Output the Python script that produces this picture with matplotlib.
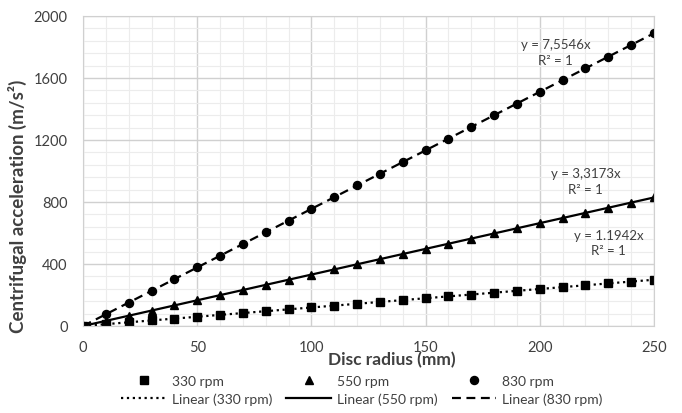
import numpy as np
import matplotlib.pyplot as plt
from matplotlib.ticker import MultipleLocator

plt.rcParams['font.family'] = ['Lato', 'DejaVu Sans']

radius = [0, 10, 20, 30, 40, 50, 60, 70, 80, 90, 100, 110, 120, 130, 140, 150,
          160, 170, 180, 190, 200, 210, 220, 230, 240, 250]
acc_330 = [0, 11.9, 23.9, 35.8, 47.8, 59.7, 71.7, 83.6, 95.5, 107.5, 119.4, 131.4, 143.3,
           155.2, 167.2, 179.1, 191.1, 203.0, 215.0, 226.9, 238.8, 250.8, 262.7, 274.7, 286.6, 298.6]
acc_550 = [0, 33.2, 66.3, 99.5, 132.7, 165.9, 199.0, 232.2, 265.4, 298.6, 331.7, 364.9, 398.1,
           431.2, 464.4, 497.6, 530.8, 563.9, 597.1, 630.3, 663.5, 696.6, 729.8, 763.0, 796.2, 829.3]
acc_830 = [0, 75.5, 151.1, 226.6, 302.2, 377.7, 453.3, 528.8, 604.4, 679.9, 755.5, 831.0, 906.6,
           982.1, 1057.6, 1133.2, 1208.7, 1284.3, 1359.8, 1435.4, 1510.9, 1586.5, 1662.0, 1737.6,
           1813.1, 1888.7]

txt = '#404040'

fig = plt.figure(figsize=(6.82, 4.14), dpi=100)
ax = fig.add_axes([83/682, 1 - 327/414, 571/682, 310/414])

h330, = ax.plot(radius, acc_330, 's', color='black', markersize=5.5, linestyle='none', label='330 rpm')
l330, = ax.plot(radius, acc_330, ':', color='black', linewidth=1.6, label='Linear (330 rpm)')
h550, = ax.plot(radius, acc_550, '^', color='black', markersize=6, linestyle='none', label='550 rpm')
l550, = ax.plot(radius, acc_550, '-', color='black', linewidth=1.6, label='Linear (550 rpm)')
h830, = ax.plot(radius, acc_830, 'o', color='black', markersize=5.8, linestyle='none', label='830 rpm')
l830, = ax.plot(radius, acc_830, '--', color='black', linewidth=1.6, dashes=(4, 2.5), label='Linear (830 rpm)')

ax.set_xlim(0, 250)
ax.set_ylim(0, 2000)
ax.xaxis.set_major_locator(MultipleLocator(50))
ax.xaxis.set_minor_locator(MultipleLocator(10))
ax.yaxis.set_major_locator(MultipleLocator(400))
ax.yaxis.set_minor_locator(MultipleLocator(80))
ax.grid(which='major', color='#d0d0d0', linewidth=1)
ax.grid(which='minor', color='#ececec', linewidth=0.8)
ax.set_axisbelow(True)
for s in ax.spines.values():
    s.set_color('#d0d0d0')
ax.tick_params(which='both', length=0, labelsize=10.5, colors=txt)
ax.tick_params(axis='x', pad=10)
ax.tick_params(axis='y', pad=11)

ax.set_xlabel('Disc radius (mm)', fontsize=12.5, fontweight='bold', color=txt)
ax.xaxis.set_label_coords(0.541, -0.082)
ax.set_ylabel('Centrifugal acceleration (m/s²)', fontsize=13.5, fontweight='bold', color=txt)
ax.yaxis.set_label_coords(-0.098, 0.39)

ax.text(207, 1768, 'y = 7,5546x\nR² = 1', ha='center', va='center', fontsize=9.5, color=txt, linespacing=1.35)
ax.text(220, 935, 'y = 3,3173x\nR² = 1', ha='center', va='center', fontsize=9.5, color=txt, linespacing=1.35)
ax.text(230, 539, 'y = 1.1942x\nR² = 1', ha='center', va='center', fontsize=9.5, color=txt, linespacing=1.35)

leg = fig.legend(handles=[h330, l330, h550, l550, h830, l830], ncol=3, loc='center',
                 bbox_to_anchor=(362/682, 1 - 391/414), frameon=False, fontsize=10,
                 handlelength=3.2, columnspacing=1.0, handletextpad=0.45, labelspacing=0.4)
for t in leg.get_texts():
    t.set_color(txt)

fig.savefig('out.png', dpi=100)
